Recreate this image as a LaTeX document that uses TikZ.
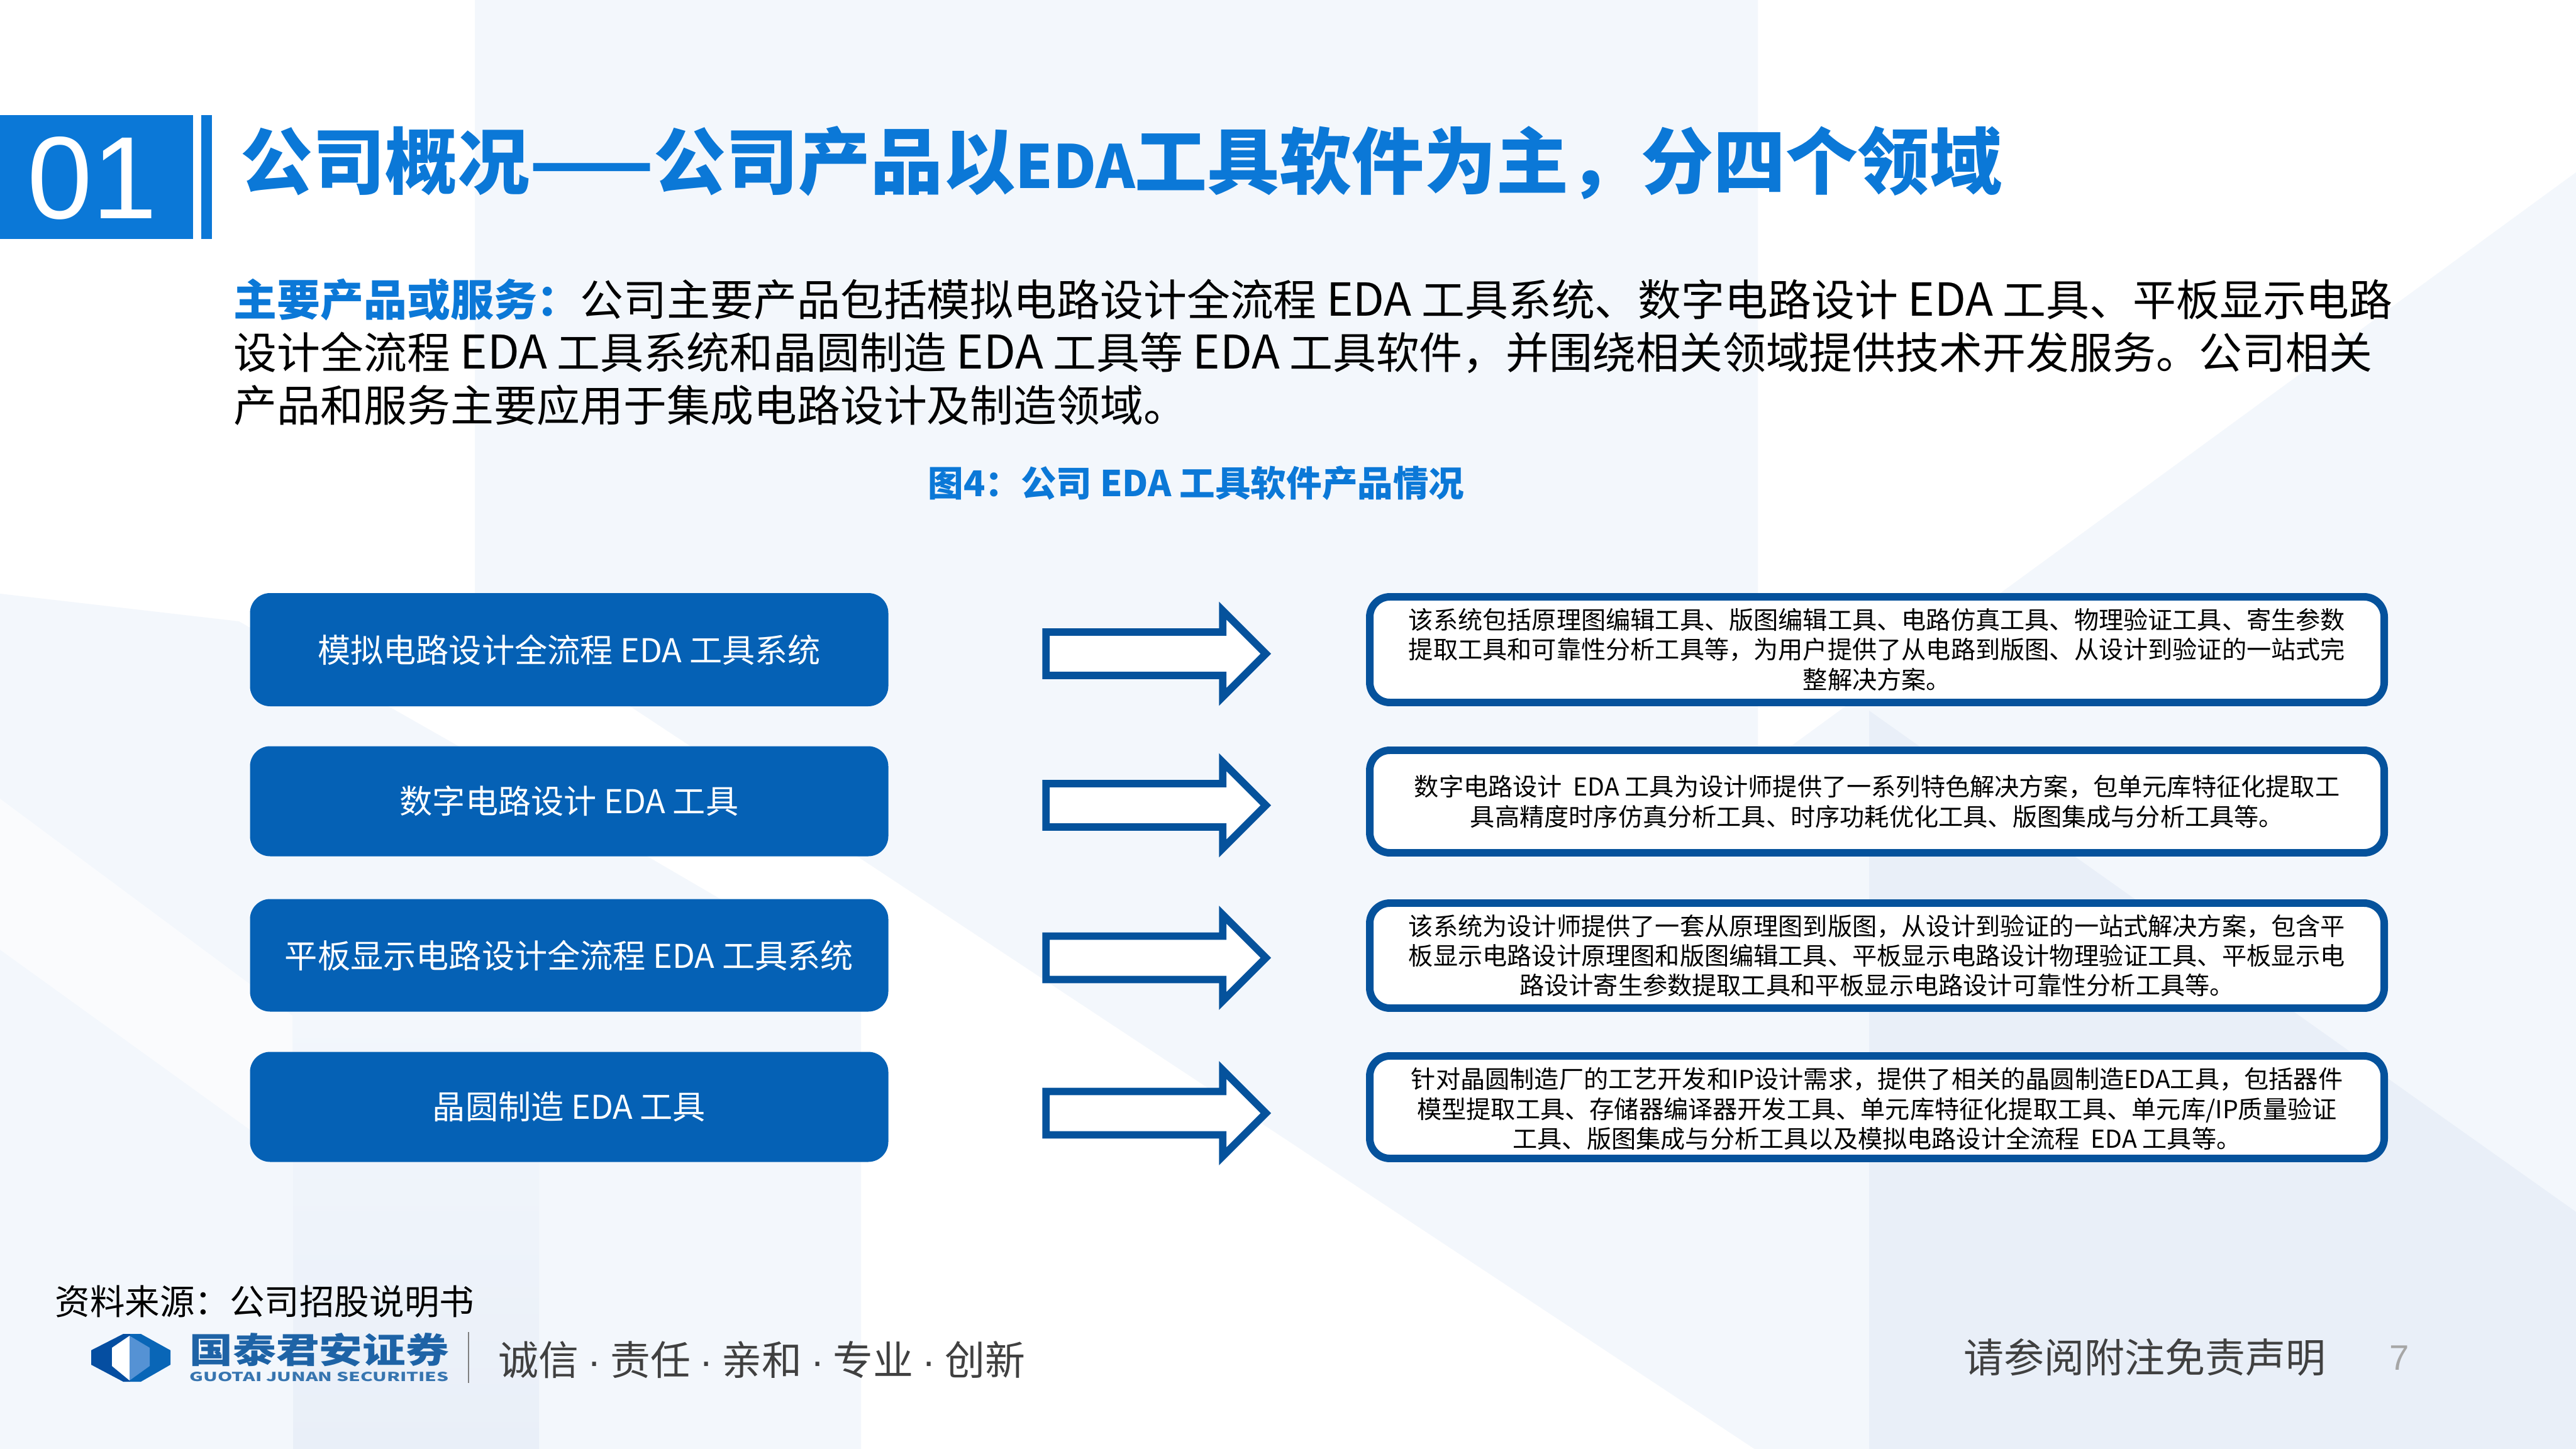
\documentclass[tikz,border=0pt]{standalone}
\usepackage{fontspec}
\setmainfont{Noto Sans CJK SC}
\newfontfamily\numfont{Liberation Sans}
\definecolor{myblue}{HTML}{0B78D7}
\definecolor{mydark}{HTML}{05529C}
\definecolor{myfill}{HTML}{0561B5}
\definecolor{mypale}{HTML}{F3F7FC}
\definecolor{mymid}{HTML}{E9EFF8}
\definecolor{mygrey}{HTML}{404040}
\newcommand{\mdot}{{\numfont\hspace{.22em}·\hspace{.22em}}}
\tikzset{
  namebox/.style={rounded corners=.32cm, fill=myfill, text=white, minimum width=10.15cm, align=center, inner sep=0pt, font=\fontsize{14.85pt}{17pt}\selectfont},
  descbox/.style={rounded corners=.32cm, draw=mydark, line width=3.4pt, fill=white, minimum width=16.13cm, align=center, inner sep=0pt, font=\fontsize{11.15pt}{13.5pt}\selectfont},
  blockarrow/.style={draw=mydark, line width=3.4pt, fill=white, miter limit=10},
  plaintext/.style={inner sep=0pt, anchor=west}
}
\begin{document}
\begin{tikzpicture}
  \useasboundingbox (0cm,0cm) rectangle (40.96cm,-23.04cm);
  \fill[white] (0cm,0cm) rectangle (40.96cm,-23.04cm);

  % background
  \fill[mypale] (7.55cm,0cm) -- (27.95cm,0cm) -- (27.95cm,-12.25cm) -- (40.96cm,-2.74cm) -- (40.96cm,-23.04cm) -- (27.9cm,-23.04cm) -- (7.55cm,-9.6cm) -- cycle;
  \fill[mypale] (0cm,-9.44cm) -- (3.8cm,-9.88cm) -- (7.3cm,-11.87cm) -- (13.69cm,-15.6cm) -- (13.69cm,-23.04cm) -- (0cm,-23.04cm) -- cycle;
  \fill[white, opacity=.6] (0cm,-12.7cm) -- (4.65cm,-16.15cm) -- (4.65cm,-18.45cm) -- (0cm,-15.1cm) -- cycle;
  \shade[top color=mypale, bottom color=mymid] (4.66cm,-16.15cm) rectangle (8.57cm,-23.04cm);
  \fill[mymid] (29.72cm,-11.3cm) -- (40.96cm,-19.27cm) -- (40.96cm,-23.04cm) -- (29.72cm,-23.04cm) -- cycle;

  % header
  \fill[myblue] (0cm,-1.83cm) rectangle (3.07cm,-3.8cm);
  \fill[myblue] (3.2cm,-1.83cm) rectangle (3.37cm,-3.8cm);
  \node[inner sep=0pt, text=white, font=\numfont\fontsize{53pt}{60pt}\selectfont] (secnum) at (1.47cm,-2.83cm) {01};
  \node[plaintext, text=myblue, font=\bfseries\fontsize{32.7pt}{36pt}\selectfont] (title) at (3.82cm,-2.59cm) {公司概况——公司产品以{\fontsize{27pt}{36pt}\selectfont EDA}工具软件为主，分四个领域};
  \node[plaintext, align=left, font=\fontsize{19.6pt}{23.9pt}\selectfont] (intro) at (3.71cm,-5.6cm) {{\bfseries\color{myblue}主要产品或服务：}公司主要产品包括模拟电路设计全流程 {\fontsize{20.6pt}{23.9pt}\selectfont EDA} 工具系统、数字电路设计 {\fontsize{20.6pt}{23.9pt}\selectfont EDA} 工具、平板显示电路\\
  设计全流程 {\fontsize{21pt}{23.9pt}\selectfont EDA} 工具系统和晶圆制造 {\fontsize{21pt}{23.9pt}\selectfont EDA} 工具等 {\fontsize{21pt}{23.9pt}\selectfont EDA} 工具软件，并围绕相关领域提供技术开发服务。公司相关\\
  产品和服务主要应用于集成电路设计及制造领域。};
  \node[inner sep=0pt, text=myblue, font=\bfseries\fontsize{16.1pt}{20pt}\selectfont] (caption) at (19.02cm,-7.68cm) {图4：公司 EDA 工具软件产品情况};

  % left boxes
  \node[namebox, minimum height=1.8cm] (moda) at (9.05cm,-10.33cm) {模拟电路设计全流程 EDA 工具系统};
  \node[namebox, minimum height=1.75cm] (modb) at (9.05cm,-12.74cm) {数字电路设计 EDA 工具};
  \node[namebox, minimum height=1.79cm] (modc) at (9.05cm,-15.19cm) {平板显示电路设计全流程 EDA 工具系统};
  \node[namebox, minimum height=1.75cm] (modd) at (9.05cm,-17.6cm) {晶圆制造 EDA 工具};

  % right boxes
  \node[descbox, minimum height=1.68cm] (desca) at (29.845cm,-10.33cm) {该系统包括原理图编辑工具、版图编辑工具、电路仿真工具、物理验证工具、寄生参数\\提取工具和可靠性分析工具等，为用户提供了从电路到版图、从设计到验证的一站式完\\整解决方案。};
  \node[descbox, minimum height=1.63cm] (descb) at (29.845cm,-12.745cm) {数字电路设计\ \ EDA 工具为设计师提供了一系列特色解决方案，包单元库特征化提取工\\具高精度时序仿真分析工具、时序功耗优化工具、版图集成与分析工具等。};
  \node[descbox, minimum height=1.67cm] (descc) at (29.845cm,-15.195cm) {该系统为设计师提供了一套从原理图到版图，从设计到验证的一站式解决方案，包含平\\板显示电路设计原理图和版图编辑工具、平板显示电路设计物理验证工具、平板显示电\\路设计寄生参数提取工具和平板显示电路设计可靠性分析工具等。};
  \node[descbox, minimum height=1.63cm] (descd) at (29.845cm,-17.605cm) {\rule{0cm}{.39cm}针对晶圆制造厂的工艺开发和IP设计需求，提供了相关的晶圆制造EDA工具，包括器件\\模型提取工具、存储器编译器开发工具、单元库特征化提取工具、单元库/IP质量验证\\工具、版图集成与分析工具以及模拟电路设计全流程\ \ EDA 工具等。};

  % arrows
  \foreach \s/\d in {moda/.065, modb/.065, modc/.04, modd/.1}{
    \draw[blockarrow] ([xshift=2.5cm,yshift=-\d cm]\s.east)
      -- ++(0cm,.345cm) -- ++(2.81cm,0cm) -- ++(0cm,.34cm)
      -- ++(.685cm,-.685cm)
      -- ++(-.685cm,-.685cm) -- ++(0cm,.34cm) -- ++(-2.81cm,0cm) -- cycle;
  }

  % footer
  \node[plaintext, font=\fontsize{15.8pt}{18pt}\selectfont] (source) at (.87cm,-20.7cm) {资料来源：公司招股说明书};
  \fill[mydark!95!blue] (1.45cm,-21.47cm) -- (1.96cm,-21.21cm) -- (2.07cm,-21.21cm) -- (2.07cm,-21.97cm) -- (1.96cm,-21.97cm) -- (1.45cm,-21.7cm) -- cycle;
  \fill[myblue!85!black] (2.07cm,-21.21cm) -- (2.24cm,-21.21cm) -- (2.71cm,-21.47cm) -- (2.71cm,-21.7cm) -- (2.24cm,-21.97cm) -- (2.07cm,-21.97cm) -- cycle;
  \fill[white] (2.06cm,-21.24cm) -- (1.78cm,-21.43cm) -- (1.78cm,-21.72cm) -- (2.06cm,-21.95cm) -- cycle;
  \fill[cyan!55!blue!70] (2.06cm,-21.24cm) -- (2.38cm,-21.43cm) -- (2.38cm,-21.72cm) -- (2.06cm,-21.95cm) -- cycle;
  \node[plaintext, text=mydark!90, font=\bfseries\fontsize{14pt}{16pt}\selectfont] (logocn) at (3.01cm,-21.46cm) {\resizebox{4.12cm}{.48cm}{国泰君安证券}};
  \node[plaintext, text=mydark!80, font=\bfseries] (logoen) at (3.01cm,-21.895cm) {\resizebox{4.12cm}{.15cm}{GUOTAI JUNAN SECURITIES}};
  \draw[gray, line width=.7pt] (7.45cm,-21.18cm) -- (7.45cm,-21.99cm);
  \node[plaintext, text=mygrey, font=\fontsize{18.2pt}{20pt}\selectfont] (motto) at (7.92cm,-21.62cm) {诚信\mdot 责任\mdot 亲和\mdot 专业\mdot 创新};
  \node[plaintext, text=mygrey, font=\fontsize{18.2pt}{20pt}\selectfont] (notice) at (31.22cm,-21.58cm) {请参阅附注免责声明};
  \node[inner sep=0pt, text=gray!70, font=\numfont\fontsize{16pt}{18pt}\selectfont] (pagenum) at (38.15cm,-21.59cm) {7};
\end{tikzpicture}
\end{document}
